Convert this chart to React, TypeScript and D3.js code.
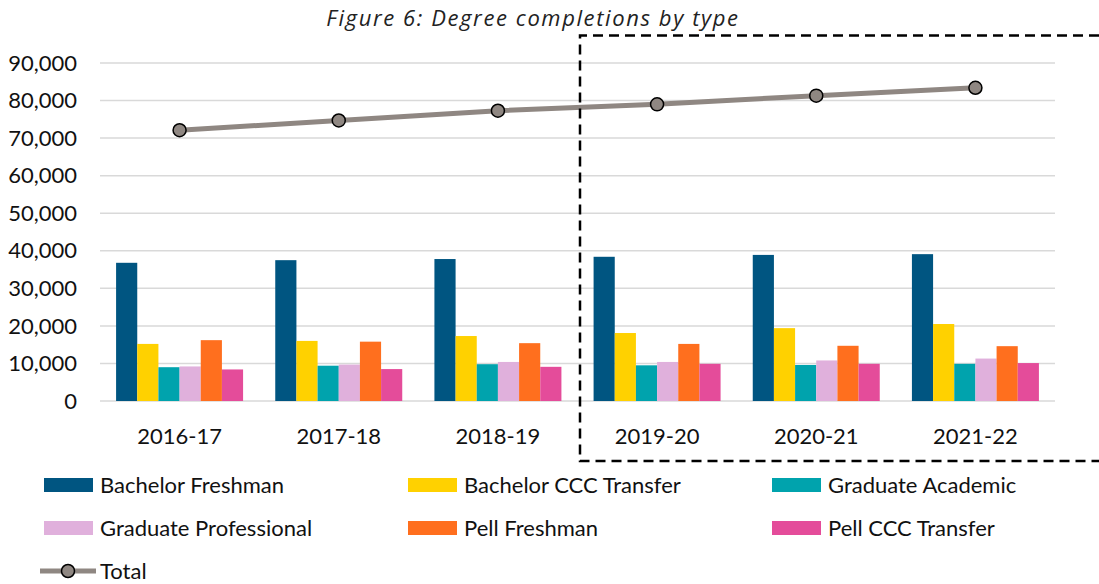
import * as d3 from "d3";
import React from "react";

const years = ["2016-17", "2017-18", "2018-19", "2019-20", "2020-21", "2021-22"];
const seriesNames = [
  "Bachelor Freshman",
  "Bachelor CCC Transfer",
  "Graduate Academic",
  "Graduate Professional",
  "Pell Freshman",
  "Pell CCC Transfer",
];
const seriesColors = ["#005581", "#FFD100", "#00A3AD", "#E0B0DC", "#FF6F1E", "#E44C9A"];
const bachelorFreshman = [36800, 37500, 37800, 38400, 38900, 39100];
const bachelorTransfer = [15200, 16000, 17300, 18100, 19400, 20500];
const gradAcademic = [9000, 9400, 9800, 9500, 9600, 9900];
const gradProfessional = [9200, 9700, 10400, 10400, 10800, 11300];
const pellFreshman = [16200, 15800, 15400, 15200, 14700, 14600];
const pellTransfer = [8400, 8500, 9100, 9900, 9900, 10100];
const totals = [72100, 74700, 77300, 79000, 81300, 83400];
const yTicks = [0, 10000, 20000, 30000, 40000, 50000, 60000, 70000, 80000, 90000];

const seriesValues = [
  bachelorFreshman,
  bachelorTransfer,
  gradAcademic,
  gradProfessional,
  pellFreshman,
  pellTransfer,
];

const App = () => {
  const ref = React.useRef<SVGSVGElement>(null);

  React.useEffect(() => {
    const width = 1099,
      height = 584;
    const svg = d3.select(ref.current);
    svg.selectAll("*").remove();
    svg.attr("width", width).attr("height", height);

    const font = "Lato, 'Open Sans', sans-serif";
    const fontSize = 22;

    // title
    svg
      .append("text")
      .attr("x", 533)
      .attr("y", 26)
      .attr("text-anchor", "middle")
      .attr("font-family", "'Open Sans', sans-serif")
      .attr("font-style", "italic")
      .attr("font-size", 22)
      .attr("letter-spacing", 1.6)
      .attr("fill", "#222")
      .text("Figure 6: Degree completions by type");

    const x = d3.scaleBand().domain(years).range([100, 1055]);
    const y = d3.scaleLinear().domain([0, 90000]).range([401, 63]);
    const inner = d3
      .scaleBand()
      .domain(seriesNames)
      .range([0, x.bandwidth()])
      .paddingOuter(0.76);

    // gridlines
    svg
      .append("g")
      .selectAll("line")
      .data(yTicks)
      .enter()
      .append("line")
      .attr("x1", 100)
      .attr("x2", 1055)
      .attr("y1", (d) => y(d))
      .attr("y2", (d) => y(d))
      .attr("stroke", "#d9d9d9")
      .attr("stroke-width", 1.5);

    // y labels
    svg
      .append("g")
      .selectAll("text")
      .data(yTicks)
      .enter()
      .append("text")
      .attr("x", 77)
      .attr("y", (d) => y(d))
      .attr("dy", "0.35em")
      .attr("text-anchor", "end")
      .attr("font-family", font)
      .attr("font-size", fontSize)
      .attr("fill", "#111")
      .text((d) => d3.format(",")(d));

    // x labels
    svg
      .append("g")
      .selectAll("text")
      .data(years)
      .enter()
      .append("text")
      .attr("x", (d) => x(d)! + x.bandwidth() / 2)
      .attr("y", 436)
      .attr("dy", "0.35em")
      .attr("text-anchor", "middle")
      .attr("font-family", font)
      .attr("font-size", fontSize)
      .attr("fill", "#111")
      .text((d) => d);

    // bars
    const groups = svg
      .append("g")
      .selectAll("g")
      .data(years)
      .enter()
      .append("g")
      .attr("transform", (d) => "translate(" + x(d) + ",0)");

    groups
      .selectAll("rect")
      .data((_, i) => seriesNames.map((s, k) => ({ s, k, v: seriesValues[k][i] })))
      .enter()
      .append("rect")
      .attr("x", (d) => inner(d.s)!)
      .attr("width", inner.bandwidth())
      .attr("y", (d) => y(d.v))
      .attr("height", (d) => y(0) - y(d.v))
      .attr("fill", (d) => seriesColors[d.k]);

    // total line
    const line = d3
      .line<number>()
      .x((_, i) => x(years[i])! + x.bandwidth() / 2)
      .y((d) => y(d));

    svg
      .append("path")
      .datum(totals)
      .attr("d", line)
      .attr("fill", "none")
      .attr("stroke", "#8F8782")
      .attr("stroke-width", 5);

    svg
      .append("g")
      .selectAll("circle")
      .data(totals)
      .enter()
      .append("circle")
      .attr("cx", (_, i) => x(years[i])! + x.bandwidth() / 2)
      .attr("cy", (d) => y(d))
      .attr("r", 6.5)
      .attr("fill", "#8F8782")
      .attr("stroke", "#000")
      .attr("stroke-width", 1.5);

    // dashed projection box
    svg
      .append("path")
      .attr("d", "M1099,35.5H580V461H1099")
      .attr("fill", "none")
      .attr("stroke", "#000")
      .attr("stroke-width", 2.5)
      .attr("stroke-dasharray", "10,6");

    // legend
    const legendCols = [44, 408, 772];
    const legendRows = [485, 528];
    const legend = svg
      .append("g")
      .selectAll("g")
      .data(seriesNames)
      .enter()
      .append("g")
      .attr(
        "transform",
        (_, i) => "translate(" + legendCols[i % 3] + "," + legendRows[Math.floor(i / 3)] + ")"
      );
    legend
      .append("rect")
      .attr("x", 0)
      .attr("y", -7)
      .attr("width", 49)
      .attr("height", 14)
      .attr("fill", (_, i) => seriesColors[i]);
    legend
      .append("text")
      .attr("x", 56)
      .attr("dy", "0.35em")
      .attr("font-family", font)
      .attr("font-size", fontSize)
      .attr("fill", "#111")
      .text((d) => d);

    const totalLegend = svg.append("g").attr("transform", "translate(40,571)");
    totalLegend
      .append("line")
      .attr("x1", 0)
      .attr("x2", 56)
      .attr("stroke", "#8F8782")
      .attr("stroke-width", 5);
    totalLegend
      .append("circle")
      .attr("cx", 28)
      .attr("r", 6.5)
      .attr("fill", "#8F8782")
      .attr("stroke", "#000")
      .attr("stroke-width", 1.5);
    totalLegend
      .append("text")
      .attr("x", 60)
      .attr("dy", "0.35em")
      .attr("font-family", font)
      .attr("font-size", fontSize)
      .attr("fill", "#111")
      .text("Total");
  }, []);

  return (
    <div style={{ position: "absolute", left: 0, top: 0 }}>
      <svg ref={ref} style={{ display: "block" }} />
    </div>
  );
};

export default App;
